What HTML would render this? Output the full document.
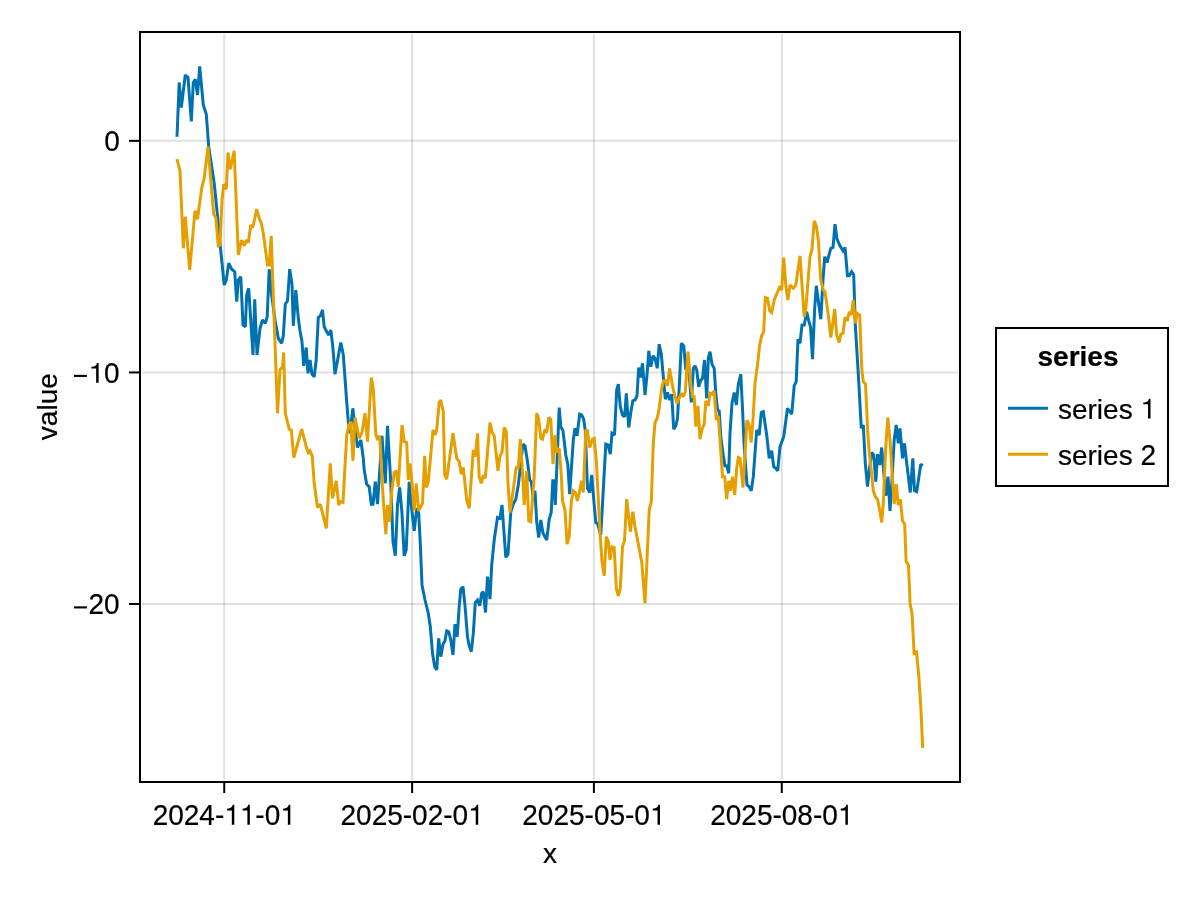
<!DOCTYPE html>
<html><head><meta charset="utf-8"><title>chart</title>
<style>
html,body{margin:0;padding:0;background:#fff;}
body{width:1200px;height:900px;overflow:hidden;}
svg{display:block;position:absolute;left:0;top:0;will-change:transform;}
text{font-family:"Liberation Sans",sans-serif;font-size:28px;fill:#000;stroke:#000;stroke-width:0.2px;}
</style></head><body>
<svg width="1200" height="900" viewBox="0 0 1200 900">
<rect x="0" y="0" width="1200" height="900" fill="#fff"/>
<g stroke="#000" stroke-opacity="0.12" stroke-width="2" fill="none">
<line x1="224.24" y1="34" x2="224.24" y2="780"/>
<line x1="412.13" y1="34" x2="412.13" y2="780"/>
<line x1="593.9" y1="34" x2="593.9" y2="780"/>
<line x1="781.79" y1="34" x2="781.79" y2="780"/>
<line x1="142" y1="140.85" x2="958" y2="140.85"/>
<line x1="142" y1="372.45" x2="958" y2="372.45"/>
<line x1="142" y1="603.95" x2="958" y2="603.95"/>
</g>
<path d="M177.0,136.7 L179.2,82.5 L181.3,107.5 L185.3,75.0 L188.0,77.5 L191.3,121.3 L193.3,82.5 L195.3,79.2 L197.5,95.0 L199.7,66.3 L203.3,105.0 L206.3,114.2 L208.7,146.7 L214.2,183.3 L218.3,223.3 L220.0,243.3 L224.2,285.0 L226.3,280.0 L228.7,263.3 L231.7,269.2 L234.7,271.7 L236.7,301.7 L238.3,280.0 L240.8,276.7 L243.0,325.0 L245.3,326.7 L246.7,295.0 L248.7,288.3 L253.0,355.0 L254.7,299.2 L257.0,355.0 L260.0,328.3 L262.5,320.0 L265.3,323.3 L267.2,316.7 L269.2,269.2 L271.7,295.0 L275.0,320.0 L278.3,338.3 L281.7,343.3 L283.3,335.8 L285.3,304.2 L287.5,300.8 L289.7,269.2 L292.0,284.2 L293.3,325.8 L295.8,290.0 L298.3,318.3 L300.0,330.8 L302.0,341.7 L303.7,365.8 L306.2,347.5 L308.0,373.3 L310.0,360.0 L312.0,374.2 L314.2,376.7 L316.2,360.0 L318.3,317.5 L320.3,315.8 L322.5,310.0 L324.2,326.7 L326.7,331.7 L328.7,335.0 L330.8,330.0 L332.8,346.7 L335.0,374.2 L340.8,342.5 L343.3,355.0 L346.7,401.7 L348.3,421.7 L350.0,433.3 L352.8,408.3 L355.0,426.7 L357.5,447.5 L360.8,440.0 L363.3,458.3 L364.2,470.0 L366.7,484.2 L369.2,486.7 L371.3,504.2 L373.0,504.2 L375.3,481.7 L377.5,504.2 L380.0,466.7 L382.0,435.8 L385.3,483.3 L387.5,425.8 L390.8,483.3 L393.0,541.7 L395.3,555.8 L397.5,505.0 L399.7,487.5 L402.0,513.3 L404.2,555.8 L406.2,550.0 L409.2,481.7 L412.0,511.7 L414.2,530.8 L416.7,508.3 L418.7,513.3 L420.3,543.3 L422.0,585.0 L425.0,600.0 L428.3,613.3 L430.3,626.7 L432.5,653.3 L434.7,666.7 L436.7,670.0 L438.7,638.3 L440.8,656.7 L443.0,644.2 L445.0,640.8 L446.7,630.8 L448.7,631.7 L450.8,640.0 L453.0,655.0 L455.0,624.2 L457.2,636.7 L459.2,606.7 L460.8,589.2 L463.0,586.7 L465.0,605.8 L467.5,636.7 L469.2,645.8 L471.3,651.7 L473.3,633.3 L475.3,602.5 L477.5,600.0 L479.7,605.8 L481.7,593.3 L483.3,591.7 L485.5,612.5 L487.5,576.7 L490.0,599.2 L491.7,565.0 L494.2,540.0 L497.5,517.5 L500.0,518.3 L502.0,505.0 L505.8,557.5 L508.0,554.2 L510.8,511.7 L513.3,504.2 L515.8,499.2 L518.3,485.0 L523.0,444.2 L525.0,445.8 L527.5,461.7 L529.7,480.0 L531.3,481.7 L533.0,496.7 L535.0,490.8 L536.7,521.7 L538.7,537.5 L540.8,520.0 L543.0,533.3 L546.7,540.0 L549.2,519.2 L551.2,512.5 L552.8,480.8 L554.2,480.8 L555.3,505.0 L559.2,407.5 L560.8,426.7 L563.0,430.8 L565.8,455.0 L567.8,464.2 L569.7,494.2 L573.3,440.0 L575.0,428.3 L577.0,435.8 L579.7,414.2 L581.7,415.0 L583.7,419.2 L585.3,430.8 L587.5,488.3 L589.7,492.5 L591.7,475.0 L594.2,505.0 L595.8,522.5 L597.5,523.3 L600.8,535.0 L605.8,444.2 L608.0,445.0 L610.3,454.2 L612.0,433.3 L614.5,435.0 L616.7,390.0 L618.3,384.2 L620.3,406.7 L622.5,415.0 L624.7,416.7 L626.3,393.3 L628.7,427.5 L630.8,412.5 L632.8,400.8 L635.0,400.0 L637.0,395.8 L638.7,367.5 L640.5,377.5 L642.5,363.3 L645.0,395.0 L647.0,375.0 L648.8,350.8 L650.8,366.7 L653.0,355.8 L655.0,358.3 L657.2,368.3 L659.2,344.2 L661.3,354.2 L663.3,376.7 L665.3,399.2 L667.5,392.5 L669.5,400.0 L671.7,394.2 L673.7,429.2 L675.8,425.8 L677.5,418.3 L679.7,378.3 L681.3,343.3 L683.8,345.8 L685.8,370.0 L687.5,367.5 L689.2,373.3 L691.3,402.5 L693.3,368.3 L695.0,365.8 L696.7,370.0 L698.7,386.7 L700.5,380.8 L702.5,378.3 L704.5,360.0 L706.7,398.3 L708.3,358.3 L710.0,351.7 L712.0,364.2 L714.2,368.3 L715.8,393.3 L717.5,410.0 L719.2,410.8 L720.8,436.7 L722.5,450.0 L725.0,466.7 L726.7,465.0 L728.7,473.3 L730.0,433.3 L732.0,403.3 L734.2,392.5 L736.3,405.0 L738.3,384.2 L740.8,374.2 L742.5,408.3 L744.2,446.7 L747.0,485.0 L749.2,486.7 L751.3,490.8 L753.3,476.7 L756.7,430.0 L759.2,435.0 L761.3,412.5 L763.3,411.7 L766.7,435.0 L769.2,458.3 L771.7,450.8 L773.7,466.7 L775.8,468.3 L777.7,470.8 L780.0,446.7 L783.7,436.7 L787.5,408.3 L791.7,414.2 L794.2,385.8 L796.2,381.7 L798.0,339.2 L800.0,343.3 L802.0,325.0 L804.2,325.0 L806.7,311.7 L808.7,320.8 L810.5,326.7 L812.5,359.2 L814.7,308.3 L816.3,285.8 L820.8,319.2 L823.0,280.0 L824.7,256.7 L827.0,262.5 L830.8,248.3 L833.0,247.5 L835.0,224.2 L837.0,239.2 L840.0,245.8 L843.0,250.8 L845.0,247.5 L847.5,275.8 L849.2,275.8 L851.7,271.7 L853.7,275.0 L855.3,325.0 L858.3,374.2 L861.3,428.3 L863.3,425.0 L865.3,463.3 L867.5,486.7 L869.7,466.7 L871.7,452.5 L873.7,455.0 L875.8,481.7 L877.5,454.2 L879.7,465.0 L881.7,447.5 L883.7,471.7 L885.8,495.8 L888.0,476.7 L890.0,510.8 L892.0,480.0 L894.2,440.0 L896.2,425.0 L898.3,443.3 L900.0,428.3 L902.5,458.3 L904.5,443.3 L906.7,463.3 L910.3,492.5 L912.8,458.3 L914.5,490.8 L916.7,491.7 L918.7,478.3 L920.8,464.2 L922.8,465.8" stroke="#0072B2" fill="none" stroke-width="3" stroke-linejoin="miter" stroke-miterlimit="2" stroke-linecap="butt"/>
<path d="M177.0,159.2 L180.0,170.8 L183.3,248.3 L185.3,216.7 L189.7,270.0 L195.0,210.8 L197.5,219.2 L201.7,188.3 L204.2,178.3 L208.0,146.7 L213.7,214.2 L215.8,217.5 L218.3,245.8 L220.0,245.0 L222.0,200.0 L223.7,184.2 L226.3,189.2 L228.0,152.5 L230.3,169.2 L234.2,150.8 L238.3,255.0 L241.7,240.0 L244.2,245.8 L246.3,240.0 L248.3,242.5 L250.8,225.0 L252.8,227.5 L256.7,209.2 L259.2,218.3 L261.3,223.3 L263.3,233.3 L267.5,265.0 L269.2,265.0 L271.2,235.8 L277.5,413.3 L280.0,370.0 L282.5,366.7 L283.7,352.5 L285.3,413.3 L289.2,429.2 L291.3,430.0 L293.8,457.5 L301.7,429.2 L306.7,448.3 L308.3,452.5 L310.0,450.8 L312.2,455.8 L314.2,483.3 L317.5,507.5 L320.3,504.2 L326.3,528.3 L330.3,463.3 L332.5,498.3 L336.3,480.8 L338.7,505.0 L340.8,501.7 L343.0,502.5 L346.7,435.8 L348.7,425.8 L350.8,421.7 L353.0,460.8 L355.0,417.5 L359.2,438.3 L362.0,432.5 L365.0,413.3 L367.5,441.7 L371.3,377.5 L373.3,389.2 L375.8,434.2 L377.5,440.0 L379.7,435.8 L382.5,488.3 L385.8,534.2 L387.5,505.0 L389.5,521.7 L391.7,491.7 L394.2,472.5 L396.3,470.8 L398.3,486.7 L402.0,425.0 L404.2,441.7 L406.7,442.5 L408.3,480.0 L410.0,463.3 L412.0,483.3 L414.2,510.8 L416.2,483.3 L418.7,510.8 L422.5,503.3 L424.7,455.8 L426.3,487.5 L428.3,481.7 L433.0,430.0 L435.0,435.0 L436.7,430.0 L439.2,402.5 L440.8,400.0 L443.3,411.7 L444.7,475.0 L446.7,479.2 L453.0,433.3 L456.7,458.3 L459.2,461.7 L461.3,474.2 L463.3,467.5 L466.7,500.0 L469.2,508.3 L473.3,450.0 L475.3,456.7 L477.5,433.3 L479.2,476.7 L481.3,483.3 L483.3,475.0 L485.3,478.3 L490.0,422.5 L492.2,432.5 L494.2,435.8 L498.0,470.8 L500.0,455.8 L502.0,452.5 L504.2,427.5 L506.3,431.7 L508.0,483.3 L510.0,512.5 L513.0,491.7 L516.3,466.7 L518.3,468.3 L520.3,439.2 L522.0,463.3 L524.2,505.0 L526.7,470.8 L528.7,520.8 L530.8,521.7 L534.2,476.7 L536.7,413.3 L538.7,419.2 L540.8,438.3 L542.5,439.2 L544.7,430.8 L546.7,432.5 L548.7,417.5 L550.8,419.2 L553.0,464.2 L555.0,435.0 L556.7,452.5 L559.2,448.3 L561.3,475.0 L562.5,500.8 L565.0,510.0 L567.0,544.2 L569.2,536.7 L571.3,501.7 L573.3,490.8 L575.3,492.5 L577.5,500.8 L581.7,480.8 L583.3,492.5 L585.8,430.8 L587.5,430.8 L589.7,447.5 L592.5,439.2 L594.2,438.3 L596.3,460.0 L598.7,506.7 L600.0,531.7 L602.0,561.7 L604.2,575.8 L606.3,536.7 L608.3,541.7 L610.0,560.0 L612.0,546.7 L614.2,547.5 L616.3,588.3 L618.3,595.8 L620.3,588.3 L622.5,546.7 L624.5,540.8 L626.7,499.2 L630.3,531.7 L632.8,511.7 L635.0,526.7 L641.7,561.7 L645.0,603.3 L647.0,560.0 L649.2,510.0 L651.3,501.7 L653.3,443.3 L655.0,422.5 L657.2,418.3 L659.2,408.3 L661.7,388.3 L663.7,380.8 L665.8,380.8 L667.5,385.8 L669.5,368.3 L673.3,390.0 L677.0,403.3 L681.3,393.3 L683.3,396.7 L685.3,391.7 L688.0,351.7 L690.8,385.0 L692.5,396.7 L694.2,396.7 L695.8,426.7 L698.0,405.8 L700.0,439.2 L702.0,429.2 L704.2,424.2 L705.8,400.8 L708.3,405.8 L710.0,393.3 L712.0,394.2 L714.2,390.8 L716.3,420.0 L718.3,415.8 L720.0,440.0 L722.5,476.7 L724.7,476.7 L726.7,499.2 L728.7,480.8 L730.3,490.8 L732.5,476.7 L734.7,495.0 L736.7,468.3 L738.3,457.5 L740.0,458.3 L743.0,487.5 L745.0,453.3 L747.0,420.0 L749.2,425.0 L751.2,442.5 L753.0,420.0 L755.0,383.3 L757.5,365.0 L759.7,345.0 L761.7,335.8 L763.7,331.7 L765.3,297.5 L767.5,298.3 L769.7,310.8 L771.7,312.5 L774.2,300.0 L779.5,287.5 L781.7,290.0 L783.7,257.5 L785.8,285.0 L787.8,300.0 L790.0,285.0 L793.3,288.3 L795.8,285.0 L800.0,255.8 L804.2,316.7 L805.8,309.2 L810.0,256.7 L812.0,249.2 L814.2,220.8 L816.3,225.8 L818.3,240.0 L820.8,280.0 L823.3,290.0 L825.0,291.7 L828.3,315.0 L830.8,337.5 L834.7,309.2 L836.7,335.0 L839.2,342.5 L840.8,334.2 L843.0,333.3 L845.0,317.5 L847.5,320.8 L849.2,311.7 L851.3,315.0 L853.3,300.0 L855.3,323.3 L857.0,313.3 L859.7,315.0 L861.2,355.0 L862.0,371.7 L863.3,381.7 L865.5,384.2 L867.0,415.0 L867.5,428.3 L869.2,451.7 L871.7,475.0 L873.3,490.8 L875.3,496.7 L877.5,499.2 L879.7,510.0 L881.7,522.5 L883.3,503.3 L885.8,446.7 L887.8,417.5 L890.0,440.0 L891.7,466.7 L894.2,504.2 L896.2,484.2 L898.3,505.0 L900.3,499.2 L902.5,520.8 L904.7,524.2 L906.1,561.3 L908.5,565.3 L910.1,604.0 L912.0,613.3 L914.1,653.3 L916.5,652.0 L918.7,674.7 L920.8,706.7 L922.7,747.9" stroke="#E69F00" fill="none" stroke-width="3" stroke-linejoin="miter" stroke-miterlimit="2" stroke-linecap="butt"/>
<rect x="140" y="32" width="820" height="750" fill="none" stroke="#000" stroke-width="2"/>
<g stroke="#000" stroke-width="2">
<line x1="224.24" y1="783" x2="224.24" y2="793"/>
<line x1="412.13" y1="783" x2="412.13" y2="793"/>
<line x1="593.9" y1="783" x2="593.9" y2="793"/>
<line x1="781.79" y1="783" x2="781.79" y2="793"/>
<line x1="139" y1="140.85" x2="129" y2="140.85"/>
<line x1="139" y1="372.45" x2="129" y2="372.45"/>
<line x1="139" y1="603.95" x2="129" y2="603.95"/>
</g>
<text transform="translate(152.64,824.7) scale(1,1.05)" x="0.00 15.57 31.14 46.70 62.27 102.73 112.06" y="0">2024--0</text>
<path transform="translate(224.24,824.7) scale(0.028,-0.028)" d="M359,0 L271,0 L271,505 L102,505 L102,568 C229,581 279,611 301,709 L359,709 Z" fill="#000"/>
<path transform="translate(239.81,824.7) scale(0.028,-0.028)" d="M359,0 L271,0 L271,505 L102,505 L102,568 C229,581 279,611 301,709 L359,709 Z" fill="#000"/>
<path transform="translate(280.27,824.7) scale(0.028,-0.028)" d="M359,0 L271,0 L271,505 L102,505 L102,568 C229,581 279,611 301,709 L359,709 Z" fill="#000"/>
<text transform="translate(340.53,824.7) scale(1,1.05)" x="0.00 15.57 31.14 46.70 62.27 71.60 87.16 102.73 112.06" y="0">2025-02-0</text>
<path transform="translate(468.16,824.7) scale(0.028,-0.028)" d="M359,0 L271,0 L271,505 L102,505 L102,568 C229,581 279,611 301,709 L359,709 Z" fill="#000"/>
<text transform="translate(522.30,824.7) scale(1,1.05)" x="0.00 15.57 31.14 46.70 62.27 71.60 87.16 102.73 112.06" y="0">2025-05-0</text>
<path transform="translate(649.93,824.7) scale(0.028,-0.028)" d="M359,0 L271,0 L271,505 L102,505 L102,568 C229,581 279,611 301,709 L359,709 Z" fill="#000"/>
<text transform="translate(710.19,824.7) scale(1,1.05)" x="0.00 15.57 31.14 46.70 62.27 71.60 87.16 102.73 112.06" y="0">2025-08-0</text>
<path transform="translate(837.82,824.7) scale(0.028,-0.028)" d="M359,0 L271,0 L271,505 L102,505 L102,568 C229,581 279,611 301,709 L359,709 Z" fill="#000"/>
<text transform="translate(104.13,151.15) scale(1,1.05)" x="0.00" y="0">0</text>
<text transform="translate(72.21,382.75) scale(1,1.05)" x="31.92" y="0">0</text>
<rect x="73.91" y="374.85" width="13" height="2.1" fill="#000"/>
<path transform="translate(88.56,382.75) scale(0.028,-0.028)" d="M359,0 L271,0 L271,505 L102,505 L102,568 C229,581 279,611 301,709 L359,709 Z" fill="#000"/>
<text transform="translate(72.21,614.25) scale(1,1.05)" x="16.35 31.92" y="0">20</text>
<rect x="73.91" y="606.35" width="13" height="2.1" fill="#000"/>
<text transform="translate(550,862.7) scale(1,1.02)" text-anchor="middle">x</text>
<text transform="translate(56.6,406.7) rotate(-90) scale(1,1.02)" text-anchor="middle">value</text>
<rect x="996" y="328" width="172" height="158" fill="#fff" stroke="#000" stroke-width="2"/>
<text transform="translate(1078,366.4) scale(1,1.02)" text-anchor="middle" font-weight="bold">series</text>
<line x1="1008" y1="408.3" x2="1048" y2="408.3" stroke="#0072B2" stroke-width="3"/>
<line x1="1008" y1="454.3" x2="1048" y2="454.3" stroke="#E69F00" stroke-width="3"/>
<text transform="translate(1058.00,418.5) scale(1,1.02)" x="0.00 14.00 29.57 38.89 45.11 60.68" y="0">series</text>
<path transform="translate(1140.46,418.5) scale(0.028,-0.028)" d="M359,0 L271,0 L271,505 L102,505 L102,568 C229,581 279,611 301,709 L359,709 Z" fill="#000"/>
<text transform="translate(1058.00,464.5) scale(1,1.05)" x="82.46" y="0">2</text>
<text transform="translate(1058.00,464.5) scale(1,1.02)" x="0.00 14.00 29.57 38.89 45.11 60.68" y="0">series</text>
</svg></body></html>
